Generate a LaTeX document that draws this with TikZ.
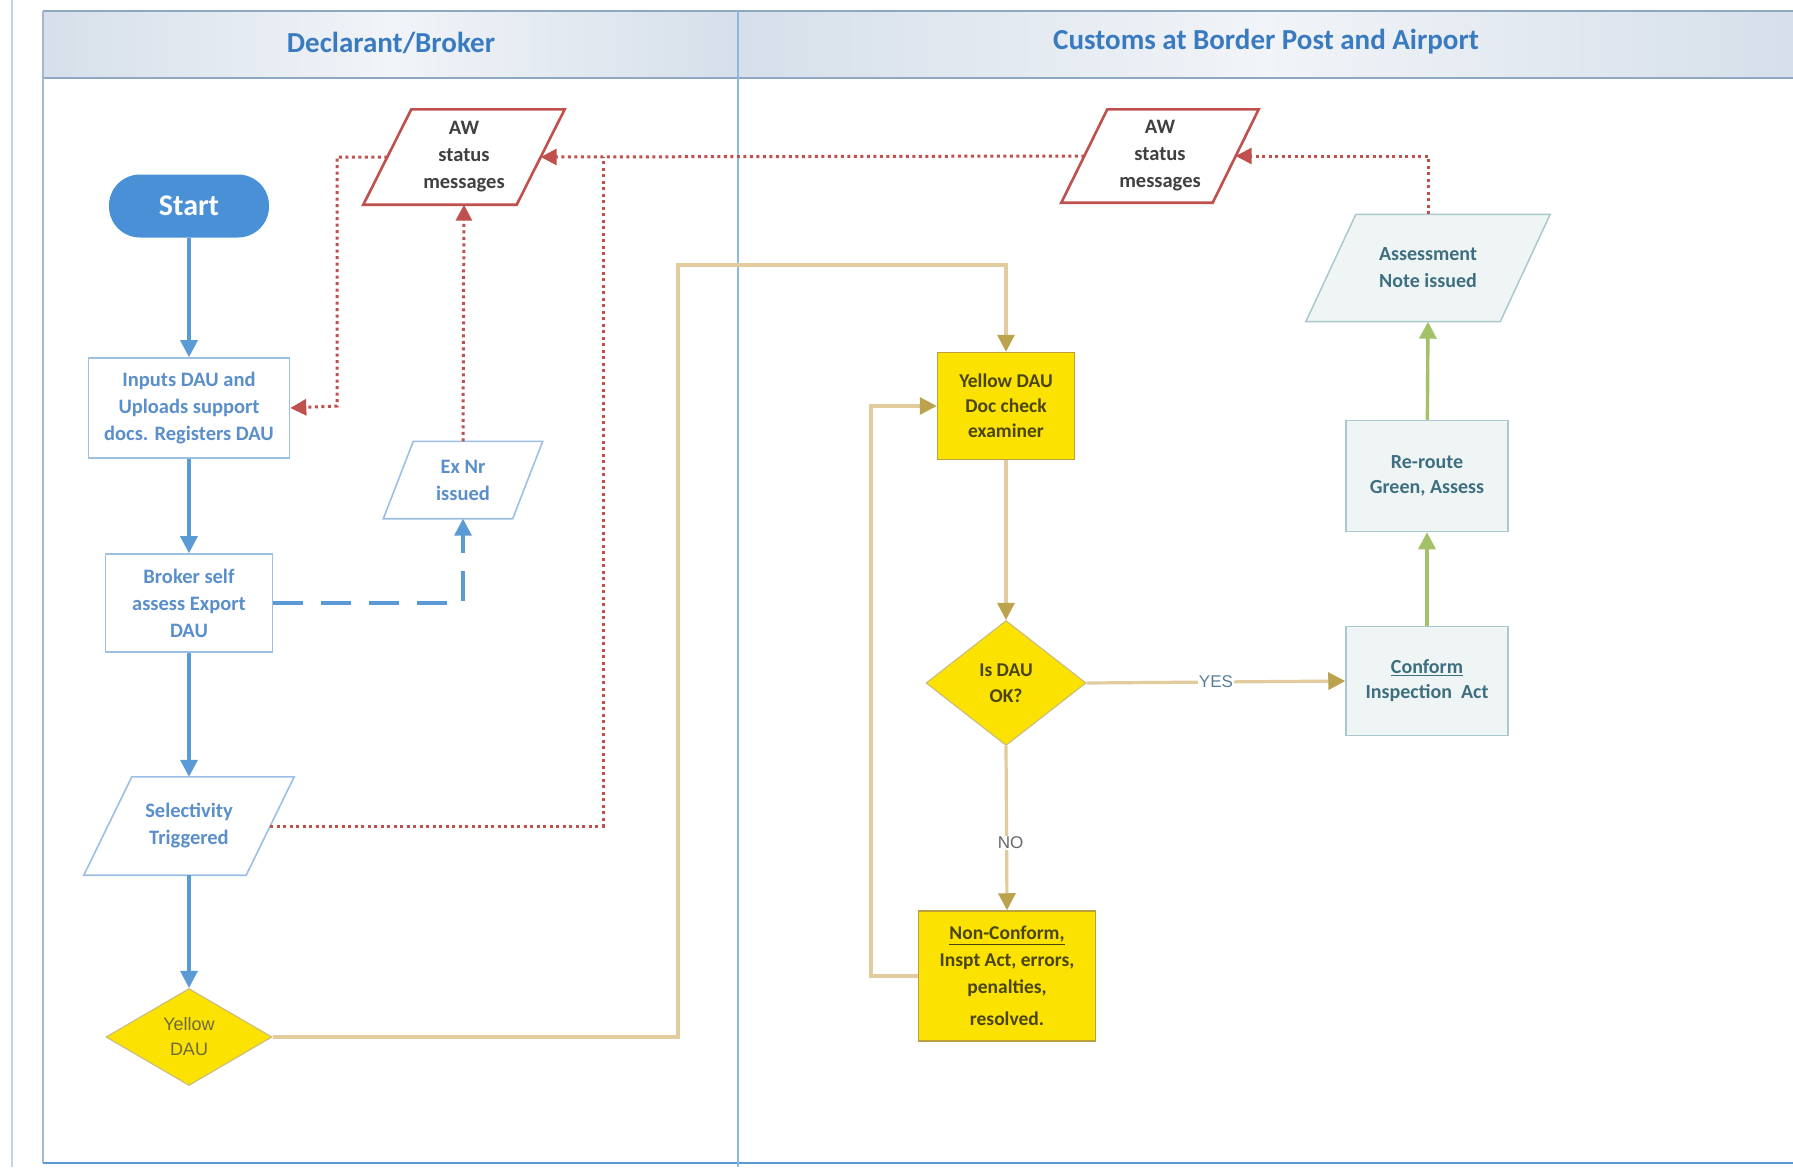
\documentclass[tikz,border=0pt]{standalone}
\usepackage{fontspec}
\setmainfont{Carlito}
\newfontfamily\arialf{Liberation Sans}
\usetikzlibrary{shapes.geometric,arrows.meta,calc}
\definecolor{hdrfill}{HTML}{D6DFEA}
\definecolor{hdrlight}{HTML}{F1F4F8}
\definecolor{hdrline}{HTML}{8FA8C2}
\definecolor{hdrtext}{HTML}{3A7BBF}
\definecolor{lineblue}{HTML}{5B9BD5}
\definecolor{boxblue}{HTML}{9DBFE6}
\definecolor{txtblue}{HTML}{5A8FCB}
\definecolor{startblue}{HTML}{4A90D6}
\definecolor{awred}{HTML}{C0504D}
\definecolor{tanline}{HTML}{E2CB9C}
\definecolor{tanhead}{HTML}{BBA24C}
\definecolor{yfill}{HTML}{FBE200}
\definecolor{yborder}{HTML}{B9A23E}
\definecolor{ytext}{HTML}{4A4510}
\definecolor{greenarr}{HTML}{A3C166}
\definecolor{lfill}{HTML}{EFF5F5}
\definecolor{lborder}{HTML}{A9C9CE}
\definecolor{ltext}{HTML}{3E6F80}
\definecolor{yestext}{HTML}{5A7C9C}
\newcommand\drawpara[3]{%
  \draw[#3] (#1.south west) -- ([xshift=-#2]#1.south east) -- (#1.north east) -- ([xshift=#2]#1.north west) -- cycle;}
\tikzset{
  hdr/.style={text=hdrtext,font=\fontsize{29}{34}\selectfont\bfseries},
  startbox/.style={fill=startblue,text=white,rounded corners=31pt,font=\fontsize{30}{36}\selectfont\bfseries,minimum width=160pt,minimum height=63pt,inner sep=0},
  bluebox/.style={draw=boxblue,line width=1.6pt,fill=white,text=txtblue,font=\fontsize{20.5}{27}\selectfont\bfseries,align=center,inner sep=0},
  bluetext/.style={text=txtblue,font=\fontsize{20.5}{27}\selectfont\bfseries,align=center,inner sep=0},
  bluepara/.style={draw=boxblue,line width=1.6pt,fill=white},
  awtext/.style={text=black!75,font=\fontsize{20.5}{27}\selectfont\bfseries,align=center,inner sep=0},
  awpara/.style={draw=awred,line width=2.6pt,fill=white},
  ybox/.style={draw=yborder,line width=1.5pt,fill=yfill,text=ytext,font=\fontsize{19.5}{25}\selectfont\bfseries,align=center,inner sep=0},
  ydia/.style={diamond,draw=yborder!70,line width=1.2pt,fill=yfill,text=ytext,align=center,inner sep=0},
  lbox/.style={draw=lborder,line width=1.5pt,fill=lfill,text=ltext,font=\fontsize{20}{25}\selectfont\bfseries,align=center,inner sep=0},
  ltext/.style={text=ltext,font=\fontsize{20}{27}\selectfont\bfseries,align=center,inner sep=0},
  lpara/.style={draw=lborder,line width=1.5pt,fill=lfill},
  bluearrow/.style={draw=lineblue,line width=3.4pt,-{Triangle[length=17pt,width=17pt]}},
  bluedash/.style={draw=lineblue,line width=3.4pt,dash pattern=on 30pt off 18pt,-{Triangle[length=17pt,width=17pt]}},
  reddot/.style={draw=awred,line width=3pt,dash pattern=on 3pt off 3.5pt},
  reddotarrow/.style={reddot,-{Triangle[length=16pt,width=16pt]}},
  tanl/.style={draw=tanline,line width=3.2pt},
  tanarrow/.style={tanl,-{Triangle[length=17pt,width=17pt,color=tanhead]}},
  greenarrow/.style={draw=greenarr,line width=3.4pt,-{Triangle[length=17pt,width=17pt]}},
  lbl/.style={fill=white,inner sep=1pt,font=\arialf\fontsize{17}{20}\selectfont}
}
\begin{document}
\begin{tikzpicture}[x=1pt,y=-1pt]
\useasboundingbox (0,0) rectangle (1793,1167);
\fill[white] (0,0) rectangle (1793,1167);
% frame and lanes
\shade[left color=hdrfill,right color=hdrlight] (43,11) rectangle (391,78);
\shade[left color=hdrlight,right color=hdrfill] (391,11) rectangle (738,78);
\shade[left color=hdrfill,right color=hdrlight] (738,11) rectangle (1266,78);
\shade[left color=hdrlight,right color=hdrfill] (1266,11) rectangle (1793,78);
\draw[hdrline,line width=1.6pt] (43,11) -- (1793,11);
\draw[hdrline,line width=1.6pt] (43,78) -- (1793,78);
\draw[hdrline!80,line width=1.4pt] (43,11) -- (43,1163);
\draw[lineblue,line width=1.8pt] (43,1163) -- (1793,1163);
\draw[lineblue!70,line width=1.8pt] (738,11) -- (738,1167);
\draw[hdrline!50,line width=1.2pt] (12,0) -- (12,1167);
\node[hdr] (h1) at (391,43) {Declarant/Broker};
\node[hdr] (h2) at (1266,42) {Customs at Border Post and Airport};
% left lane nodes
\node[startbox] (start) at (189,206) {Start};
\node[bluebox,minimum width=201pt,minimum height=100pt] (inputs) at (189,408) {Inputs DAU and\\Uploads support\\docs. Registers DAU};
\node[bluebox,minimum width=167pt,minimum height=98pt] (broker) at (189,603) {Broker self\\assess Export\\DAU};
\node[minimum width=210pt,minimum height=98pt,inner sep=0] (select) at (189,826) {};
\drawpara{select}{48pt}{bluepara}
\node[bluetext] at (select) {Selectivity\\Triggered};
\node[ydia,aspect=1.7,minimum width=166pt,minimum height=97pt,font=\arialf\fontsize{18}{25}\selectfont,text=ytext!80] (ydau) at (189,1037) {Yellow\\DAU};
\node[minimum width=201pt,minimum height=95pt,inner sep=0] (aw1) at (464,157) {};
\drawpara{aw1}{48pt}{awpara}
\node[awtext] at (aw1) {AW\\status\\messages};
\node[minimum width=159pt,minimum height=77pt,inner sep=0] (exnr) at (463,480) {};
\drawpara{exnr}{30pt}{bluepara}
\node[bluetext] at (exnr) {Ex Nr\\issued};
% right lane nodes
\node[minimum width=197pt,minimum height=93pt,inner sep=0] (aw2) at (1160,156) {};
\drawpara{aw2}{46pt}{awpara}
\node[awtext] at (aw2) {AW\\status\\messages};
\node[minimum width=244pt,minimum height=107pt,inner sep=0] (assess) at (1428,268) {};
\drawpara{assess}{50pt}{lpara}
\node[ltext] at (assess) {Assessment\\Note issued};
\node[lbox,minimum width=162pt,minimum height=111pt] (reroute) at (1427,476) {Re-route\\Green, Assess};
\node[lbox,minimum width=162pt,minimum height=109pt] (conform) at (1427,681) {\underline{Conform}\\Inspection\ \ Act};
\node[ybox,minimum width=137pt,minimum height=107pt] (doccheck) at (1006,406) {Yellow DAU\\Doc check\\examiner};
\node[ydia,aspect=1.28,minimum width=160pt,minimum height=125pt,font=\fontsize{19.5}{26}\selectfont\bfseries] (isdau) at (1006,683) {Is DAU\\OK?};
\node[ybox,minimum width=177pt,minimum height=130pt,font=\fontsize{19.5}{27}\selectfont\bfseries] (noncon) at (1007,976) {\underline{Non-Conform,}\\Inspt Act, errors,\\penalties,\\[5pt]resolved.};
% helper coordinates
\coordinate (c1) at (337,406);
\coordinate (c2) at (603,157);
\coordinate (c3) at (678,265);
\coordinate (c4) at (871,406);
% blue flow
\draw[bluearrow] (start) -- (inputs);
\draw[bluearrow] (inputs) -- (broker);
\draw[bluearrow] (broker) -- (select);
\draw[bluearrow] (select) -- (ydau);
\draw[bluedash] (broker.east) -| (exnr.south);
% red dotted messages
\draw[reddotarrow] (exnr.north) -- (aw1.south);
\draw[reddotarrow] ([xshift=24pt]aw1.west) -| (c1) -- (inputs.east);
\draw[reddot] ([xshift=-24pt]select.east) -| (c2);
\draw[reddotarrow] ([xshift=23pt]aw2.west) -- ([xshift=-24pt]aw1.east);
\draw[reddotarrow] (assess.north) |- ([xshift=-23pt]aw2.east);
% tan flow
\draw[tanarrow] (ydau.east) -| (c3) -| (doccheck.north);
\draw[tanarrow] (doccheck) -- (isdau);
\draw[tanarrow] (isdau.east) -- node[lbl,text=yestext,pos=0.5] {YES} (conform.west);
\draw[tanarrow] (isdau.south) -- node[lbl,text=black!60,pos=0.59,xshift=4pt] {NO} (noncon.north);
\draw[tanarrow] (noncon.west) -| (c4) -- (doccheck.west);
% green flow
\draw[greenarrow] (conform) -- (reroute);
\draw[greenarrow] (reroute) -- (assess.south);
\end{tikzpicture}
\end{document}
